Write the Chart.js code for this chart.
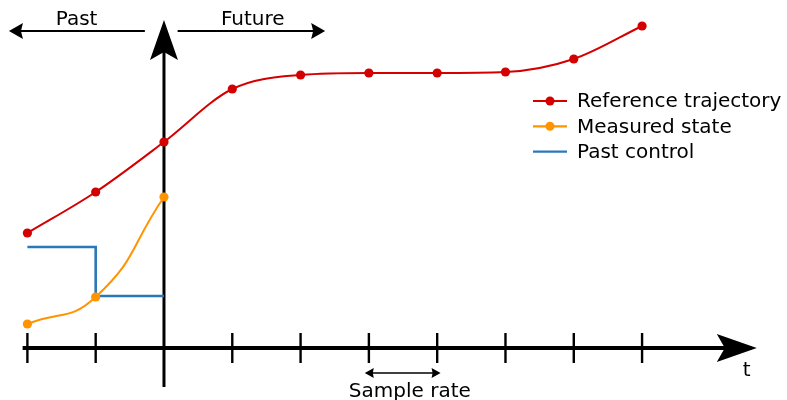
<!DOCTYPE html>
<html>
<head>
<meta charset="utf-8">
<script src="https://cdn.jsdelivr.net/npm/chart.js@4"></script>
<style>
  body { margin: 0; background: #ffffff; }
  #wrap { width: 787px; height: 400px; }
</style>
</head>
<body>
<div id="wrap"><canvas id="myChart"></canvas></div>
<script>
// sample instants, k = 0 is "now"
const steps = [-2, -1, 0, 1, 2, 3, 4, 5, 6, 7];
const referenceValues = [11.5, 15.6, 20.6, 25.9, 27.3, 27.5, 27.5, 27.6, 28.9, 32.2];
const measuredSteps = [-2, -1, 0];
const measuredValues = [2.4, 5.1, 15.1];
const controlSteps = [-2, -1, 0];
const controlValues = [10.1, 5.2, 5.2];
const legendLabels = ["Reference trajectory", "Measured state", "Past control"];

const red = "#d40000";
const orange = "#ff9400";
const blue = "#2a78b8";
const ink = "#000000";
const font = '20px "DejaVu Sans"';

const toPoints = (xs, ys) => xs.map((x, i) => ({ x, y: ys[i] }));

// filled arrow head with a slightly concave back, pointing along (dx, dy)
const arrowHead = (ctx, tx, ty, dx, dy, len, half, notch) => {
    const nx = -dy, ny = dx;
    const bx = tx - dx * len, by = ty - dy * len;
    ctx.beginPath();
    ctx.moveTo(tx, ty);
    ctx.lineTo(bx + nx * half, by + ny * half);
    ctx.lineTo(tx - dx * (len - notch), ty - dy * (len - notch));
    ctx.lineTo(bx - nx * half, by - ny * half);
    ctx.closePath();
    ctx.fill();
};

const line = (ctx, x1, y1, x2, y2, w) => {
    ctx.lineWidth = w;
    ctx.beginPath();
    ctx.moveTo(x1, y1);
    ctx.lineTo(x2, y2);
    ctx.stroke();
};

const diagram = {
    id: "diagram",
    beforeDatasetsDraw(chart) {
        const { ctx, scales: { x, y } } = chart;
        const px = (v) => x.getPixelForValue(v);
        const py = (v) => y.getPixelForValue(v);
        ctx.save();
        ctx.strokeStyle = ink;
        ctx.fillStyle = ink;
        ctx.lineCap = "butt";

        // time axis
        const y0 = py(0);
        line(ctx, px(-2.07), y0, px(8.6), y0, 4);
        arrowHead(ctx, px(8.68), y0, 1, 0, 40, 14, 8);
        steps.forEach((k) => {
            if (k !== 0) line(ctx, px(k), y0 - 15, px(k), y0 + 15, 2.4);
        });

        // "now" axis
        const x0 = px(0);
        line(ctx, x0, py(-3.9), x0, py(32), 3);
        arrowHead(ctx, x0, py(32.8), 0, -1, 40, 14, 8);

        // past / future arrows
        const ya = py(31.7);
        line(ctx, px(-2.2), ya, px(-0.28), ya, 2);
        arrowHead(ctx, px(-2.27), ya, -1, 0, 14, 8, 2);
        line(ctx, px(0.2), ya, px(2.2), ya, 2);
        arrowHead(ctx, px(2.36), ya, 1, 0, 14, 8, 2);

        // sample rate arrow
        const ys = py(-2.5);
        line(ctx, px(2.99), ys, px(4.0), ys, 1.6);
        arrowHead(ctx, px(2.94), ys, -1, 0, 9, 5, 1);
        arrowHead(ctx, px(4.05), ys, 1, 0, 9, 5, 1);

        ctx.font = font;
        ctx.textAlign = "center";
        ctx.textBaseline = "alphabetic";
        ctx.fillText("Past", px(-1.28), 25);
        ctx.fillText("Future", px(1.3), 25);
        ctx.fillText("Sample rate", px(3.6), 397);
        ctx.fillText("t", px(8.53), 376);
        ctx.restore();
    },
    afterDraw(chart) {
        const { ctx } = chart;
        const colors = [red, orange, blue];
        ctx.save();
        ctx.font = font;
        ctx.textAlign = "left";
        ctx.textBaseline = "middle";
        legendLabels.forEach((label, i) => {
            const yy = 101 + i * 25.3;
            ctx.strokeStyle = colors[i];
            ctx.fillStyle = colors[i];
            line(ctx, 533, yy, 567, yy, 2.2);
            if (i < 2) {
                ctx.beginPath();
                ctx.arc(550, yy, 4.5, 0, Math.PI * 2);
                ctx.fill();
            }
            ctx.fillStyle = "#000000";
            ctx.fillText(label, 577, yy + 1);
        });
        ctx.restore();
    },
};

const data = {
    datasets: [
        {
            label: legendLabels[0],
            data: toPoints(steps, referenceValues),
            borderColor: red,
            backgroundColor: red,
            borderWidth: 2,
            pointRadius: 4.6,
            pointBorderWidth: 0,
            cubicInterpolationMode: "monotone",
        },
        {
            label: legendLabels[1],
            data: toPoints(measuredSteps, measuredValues),
            borderColor: orange,
            backgroundColor: orange,
            borderWidth: 2,
            pointRadius: 4.6,
            pointBorderWidth: 0,
            tension: 0.5,
        },
        {
            label: legendLabels[2],
            data: toPoints(controlSteps, controlValues),
            borderColor: blue,
            borderWidth: 2.6,
            pointRadius: 0,
            stepped: true,
        },
    ],
};

const options = {
    responsive: true,
    maintainAspectRatio: false,
    animation: false,
    layout: { padding: 0, autoPadding: false },
    plugins: {
        legend: { display: false },
        tooltip: { enabled: false },
    },
    scales: {
        x: { type: "linear", min: -2.401, max: 9.122, display: false },
        y: { type: "linear", min: -5.2, max: 34.8, display: false },
    },
};

new Chart("myChart", { type: "line", data, options, plugins: [diagram] });
</script>
</body>
</html>
